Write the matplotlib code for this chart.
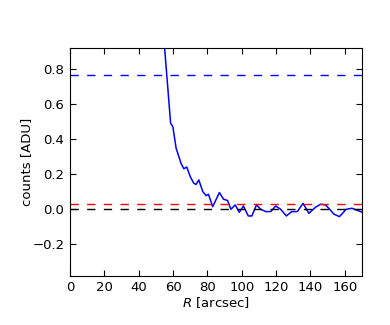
import matplotlib
matplotlib.use('Agg')
import matplotlib.pyplot as plt

# radial profile
radius = [54.0, 55.1, 58.6, 59.9, 61.8, 64.7, 66.3, 68.0, 70.0, 72.1, 73.4, 75.0,
          77.3, 79.2, 80.6, 83.1, 87.0, 89.4, 91.8, 93.7, 96.2, 98.6, 101.0,
          103.8, 105.9, 108.6, 111.1, 114.0, 116.9, 119.8, 122.7, 126.0, 129.1,
          132.4, 135.7, 139.1, 143.0, 145.9, 148.8, 150.7, 153.6, 156.9, 160.8,
          164.2, 168.1, 170.0]
counts = [1.05, 0.92, 0.49, 0.47, 0.347, 0.26, 0.23, 0.24, 0.185, 0.147, 0.14, 0.166,
          0.10, 0.076, 0.084, 0.013, 0.094, 0.056, 0.048, -0.002, 0.023, -0.019, 0.017,
          -0.04, -0.04, 0.023, -0.002, -0.015, -0.015, 0.017, -0.002, -0.04, -0.015,
          -0.015, 0.032, -0.025, 0.01, 0.027, 0.023, 0.004, -0.029, -0.044, -0.002,
          0.004, -0.011, -0.018]

levels = [0.767, 0.029, 0.0]
level_colors = ['blue', 'red', 'black']

fig = plt.figure(figsize=(3.9, 3.25), dpi=100)
ax = fig.add_axes([0.1795, 0.151, 0.7485, 0.701])

ax.plot(radius, counts, color='blue', lw=1.1)
for lev, c in zip(levels, level_colors):
    ax.axhline(lev, color=c, ls=(0, (6, 6)), lw=1.0)

ax.set_xlim(0, 170)
ax.set_ylim(-0.383, 0.92)
ax.set_xticks(range(0, 161, 20))
ax.set_yticks([-0.2, 0.0, 0.2, 0.4, 0.6, 0.8])
ax.tick_params(direction='in', top=True, right=True, labelsize=9.5, length=4, pad=4)
ax.set_xlabel('$R$ [arcsec]', fontsize=9.5)
ax.set_ylabel('counts [ADU]', fontsize=9.5)
ax.xaxis.set_label_coords(0.5, -0.085)
ax.yaxis.set_label_coords(-0.128, 0.5)

fig.savefig('out.png', dpi=100)
